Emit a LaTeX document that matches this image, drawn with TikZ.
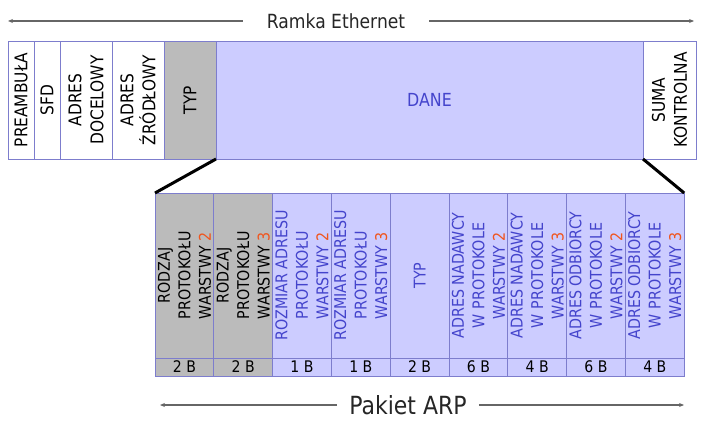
\documentclass[tikz,border=0pt]{standalone}
\usepackage{fontspec}
\setmainfont{DejaVu Sans}[FakeStretch=0.88]
\usepackage{xcolor}
\usetikzlibrary{arrows.meta}
\definecolor{cellborder}{RGB}{125,125,205}
\definecolor{lavfill}{RGB}{204,204,255}
\definecolor{grayfill}{RGB}{187,187,187}
\definecolor{bluetext}{RGB}{68,68,204}
\definecolor{numorange}{RGB}{240,85,30}
\newcommand{\warstwa}[1]{WARSTWY {\color{numorange}#1}}

\begin{document}
\begin{tikzpicture}[x=1pt, y=-1pt,
font=\fontsize{17.5}{22}\selectfont,
field/.style={draw=cellborder, line width=0.8pt, inner sep=0pt, outer sep=0pt, align=center},
topfield/.style={field, rotate=90, minimum width=118pt, fill=white},
arpfield/.style={field, rotate=90, minimum width=165pt, minimum height=58.8pt,
  font=\fontsize{16.2}{20.5}\selectfont},
grayfield/.style={arpfield, fill=grayfill, text=black},
lavfield/.style={arpfield, fill=lavfill, text=bluetext},
sizefield/.style={field, minimum width=58.8pt, minimum height=18pt,
  font=\fontsize{16}{16}\selectfont},
dimarrow/.style={-{Stealth[length=5pt, width=4pt]}, line width=1.1pt, black!60},
zoomline/.style={line width=3pt, black}
]
\useasboundingbox (0,0) rectangle (711,433);

% ramka ethernet
\node[inner xsep=24pt, font=\fontsize{19.5}{22}\selectfont, text=black!85] (ramka) at (336,21) {Ramka Ethernet};
\coordinate (ramkaL) at (8,21);
\coordinate (ramkaR) at (694,21);
\draw[dimarrow] (ramka) -- (ramkaL);
\draw[dimarrow] (ramka) -- (ramkaR);

\node[topfield, minimum height=26pt] (pre) at (21,100) {PREAMBUŁA};
\node[topfield, minimum height=26pt] (sfd) at (47,100) {SFD};
\node[topfield, minimum height=52pt] (doc) at (86,100) {ADRES\\DOCELOWY};
\node[topfield, minimum height=52pt] (zrd) at (138,100) {ADRES\\ŹRÓDŁOWY};
\node[topfield, minimum height=52pt, fill=grayfill] (typ) at (190,100) {TYP};
\node[field, minimum width=427pt, minimum height=118pt, fill=lavfill, text=bluetext,
  font=\fontsize{18}{20}\selectfont] (dane) at (429.5,100) {DANE};
\node[topfield, minimum height=53pt] (suma) at (669.5,100) {SUMA\\KONTROLNA};

% pakiet arp
\node[grayfield] (rodz2) at (184.4,275.5) {RODZAJ\\PROTOKOŁU\\\warstwa{2}};
\node[grayfield] (rodz3) at (243.2,275.5) {RODZAJ\\PROTOKOŁU\\\warstwa{3}};
\node[lavfield] (roz2) at (302.0,275.5) {ROZMIAR ADRESU\\PROTOKOŁU\\\warstwa{2}};
\node[lavfield] (roz3) at (360.8,275.5) {ROZMIAR ADRESU\\PROTOKOŁU\\\warstwa{3}};
\node[lavfield] (arptyp) at (419.6,275.5) {TYP};
\node[lavfield] (nad2) at (478.4,275.5) {ADRES NADAWCY\\W PROTOKOLE\\\warstwa{2}};
\node[lavfield] (nad3) at (537.2,275.5) {ADRES NADAWCY\\W PROTOKOLE\\\warstwa{3}};
\node[lavfield] (odb2) at (596.0,275.5) {ADRES ODBIORCY\\W PROTOKOLE\\\warstwa{2}};
\node[lavfield] (odb3) at (654.8,275.5) {ADRES ODBIORCY\\W PROTOKOLE\\\warstwa{3}};

\node[sizefield, fill=grayfill] (s1) at (184.4,367) {2 B};
\node[sizefield, fill=grayfill] (s2) at (243.2,367) {2 B};
\node[sizefield, fill=lavfill] (s3) at (302.0,367) {1 B};
\node[sizefield, fill=lavfill] (s4) at (360.8,367) {1 B};
\node[sizefield, fill=lavfill] (s5) at (419.6,367) {2 B};
\node[sizefield, fill=lavfill] (s6) at (478.4,367) {6 B};
\node[sizefield, fill=lavfill] (s7) at (537.2,367) {4 B};
\node[sizefield, fill=lavfill] (s8) at (596.0,367) {6 B};
\node[sizefield, fill=lavfill] (s9) at (654.8,367) {4 B};

% rozwiniecie pola danych
\draw[zoomline] (dane.south west) -- (rodz2.north east);
\draw[zoomline] (dane.south east) -- (odb3.south east);

\node[inner xsep=12pt, font=\fontsize{25}{27}\selectfont, text=black!85] (pakiet) at (408,405) {Pakiet ARP};
\coordinate (pakietL) at (160,405);
\coordinate (pakietR) at (684,405);
\draw[dimarrow] (pakiet) -- (pakietL);
\draw[dimarrow] (pakiet) -- (pakietR);
\end{tikzpicture}
\end{document}
